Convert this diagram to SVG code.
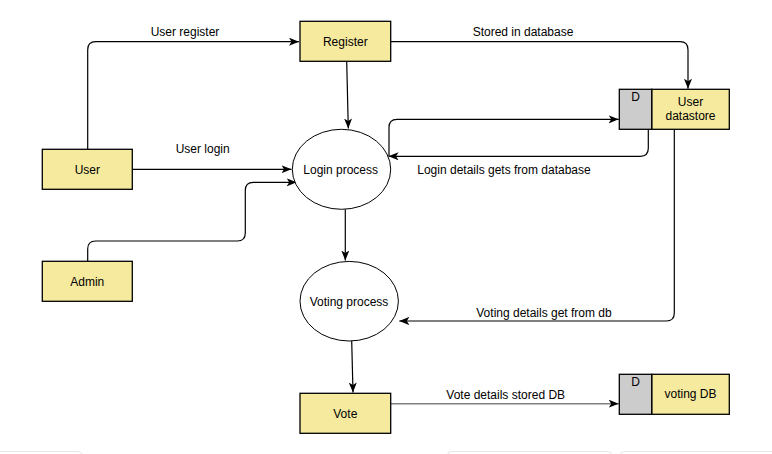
<svg xmlns="http://www.w3.org/2000/svg" width="772" height="454" viewBox="0 0 772 454">
<style>
text{font-family:"Liberation Sans",Arial,sans-serif;font-size:12px;fill:#000;text-anchor:middle}
.box{fill:#f5ea9e;stroke:#000;stroke-width:1.3}
.dpart{fill:#cccccc;stroke:#000;stroke-width:1.3}
.proc{fill:#fff;stroke:#000;stroke-width:1}
.edge{fill:none;stroke:#000;stroke-width:1.2}
.ghost{fill:none;stroke:#e6e6e6;stroke-width:1}
</style>
<defs>
<marker id="arr" markerUnits="userSpaceOnUse" markerWidth="12" markerHeight="10" refX="10" refY="4" orient="auto">
<path d="M0,0 L10,4 L0,8 L2.5,4 z" fill="#000"/>
</marker>
</defs>
<rect width="772" height="454" fill="#fff"/>
<g id="ghosts">
<rect class="ghost" x="-6" y="451.5" width="88" height="20" rx="4"/>
<rect class="ghost" x="447.5" y="451.5" width="164" height="20" rx="4"/>
<rect class="ghost" x="620.5" y="451.5" width="160" height="20" rx="4"/>
</g>
<g id="connectors">
<path class="edge" d="M87.7,149.3 V49.7 Q87.7,41.7 95.7,41.7 H299" marker-end="url(#arr)"/>
<path class="edge" d="M346.7,61.3 L348.3,128.5" marker-end="url(#arr)"/>
<path class="edge" d="M132.3,169.3 H291.5" marker-end="url(#arr)"/>
<path class="edge" d="M87.7,261.3 V249 Q87.7,241 95.7,241 H237.3 Q245.3,241 245.3,233 V190.3 Q245.3,182.3 253.3,182.3 H296.7" marker-end="url(#arr)"/>
<path class="edge" d="M390.7,41.7 H680 Q688,41.7 688,49.7 V88.7" marker-end="url(#arr)"/>
<path class="edge" d="M389,156 V127.3 Q389,119.3 397,119.3 H618.7" marker-end="url(#arr)"/>
<path class="edge" d="M648.3,129.3 V148.3 Q648.3,156.3 640.3,156.3 H388.5" marker-end="url(#arr)"/>
<path class="edge" d="M674.3,129.3 V313 Q674.3,321 666.3,321 H399.3" marker-end="url(#arr)"/>
<path class="edge" d="M345.3,209.3 V260.5" marker-end="url(#arr)"/>
<path class="edge" d="M351.7,341 L353,392.5" marker-end="url(#arr)"/>
<path class="edge" d="M390.7,403.7 H618.7" stroke="#808080" style="stroke:#808080;stroke-width:1.4" marker-end="url(#arr)"/>
<text x="185" y="35.5">User register</text>
<text x="202.7" y="153.3">User login</text>
<text x="523" y="35.5">Stored in database</text>
<text x="504" y="173.5">Login details gets from database</text>
<text x="544" y="316.5">Voting details get from db</text>
<text x="505.7" y="398.5">Vote details stored DB</text>
</g>
<g id="user">
<rect class="box" x="42.3" y="149.3" width="90" height="40"/>
<text x="87.3" y="173.5">User</text>
</g>
<g id="register">
<rect class="box" x="300" y="21.3" width="90.7" height="40"/>
<text x="345.3" y="45.5">Register</text>
</g>
<g id="admin">
<rect class="box" x="42.3" y="261.3" width="90" height="40"/>
<text x="87.3" y="285.5">Admin</text>
</g>
<g id="vote">
<rect class="box" x="300" y="393.3" width="90.7" height="40"/>
<text x="345.3" y="417.5">Vote</text>
</g>
<g id="login-process">
<ellipse class="proc" cx="341.5" cy="169.3" rx="49.2" ry="40"/>
<text x="340.7" y="173.5">Login process</text>
</g>
<g id="voting-process">
<ellipse class="proc" cx="349.2" cy="301.2" rx="49.2" ry="39.8"/>
<text x="349" y="305.5">Voting process</text>
</g>
<g id="user-datastore">
<rect class="box" x="651.7" y="89.3" width="77.6" height="40"/>
<rect class="dpart" x="619.3" y="89.3" width="32.4" height="40"/>
<text x="635.5" y="101">D</text>
<text x="690.5" y="105.5">User</text>
<text x="690.5" y="120">datastore</text>
</g>
<g id="voting-db">
<rect class="box" x="651.7" y="374.3" width="77.6" height="40"/>
<rect class="dpart" x="619.3" y="374.3" width="32.4" height="40"/>
<text x="635.5" y="386">D</text>
<text x="690.5" y="398">voting DB</text>
</g>
</svg>
